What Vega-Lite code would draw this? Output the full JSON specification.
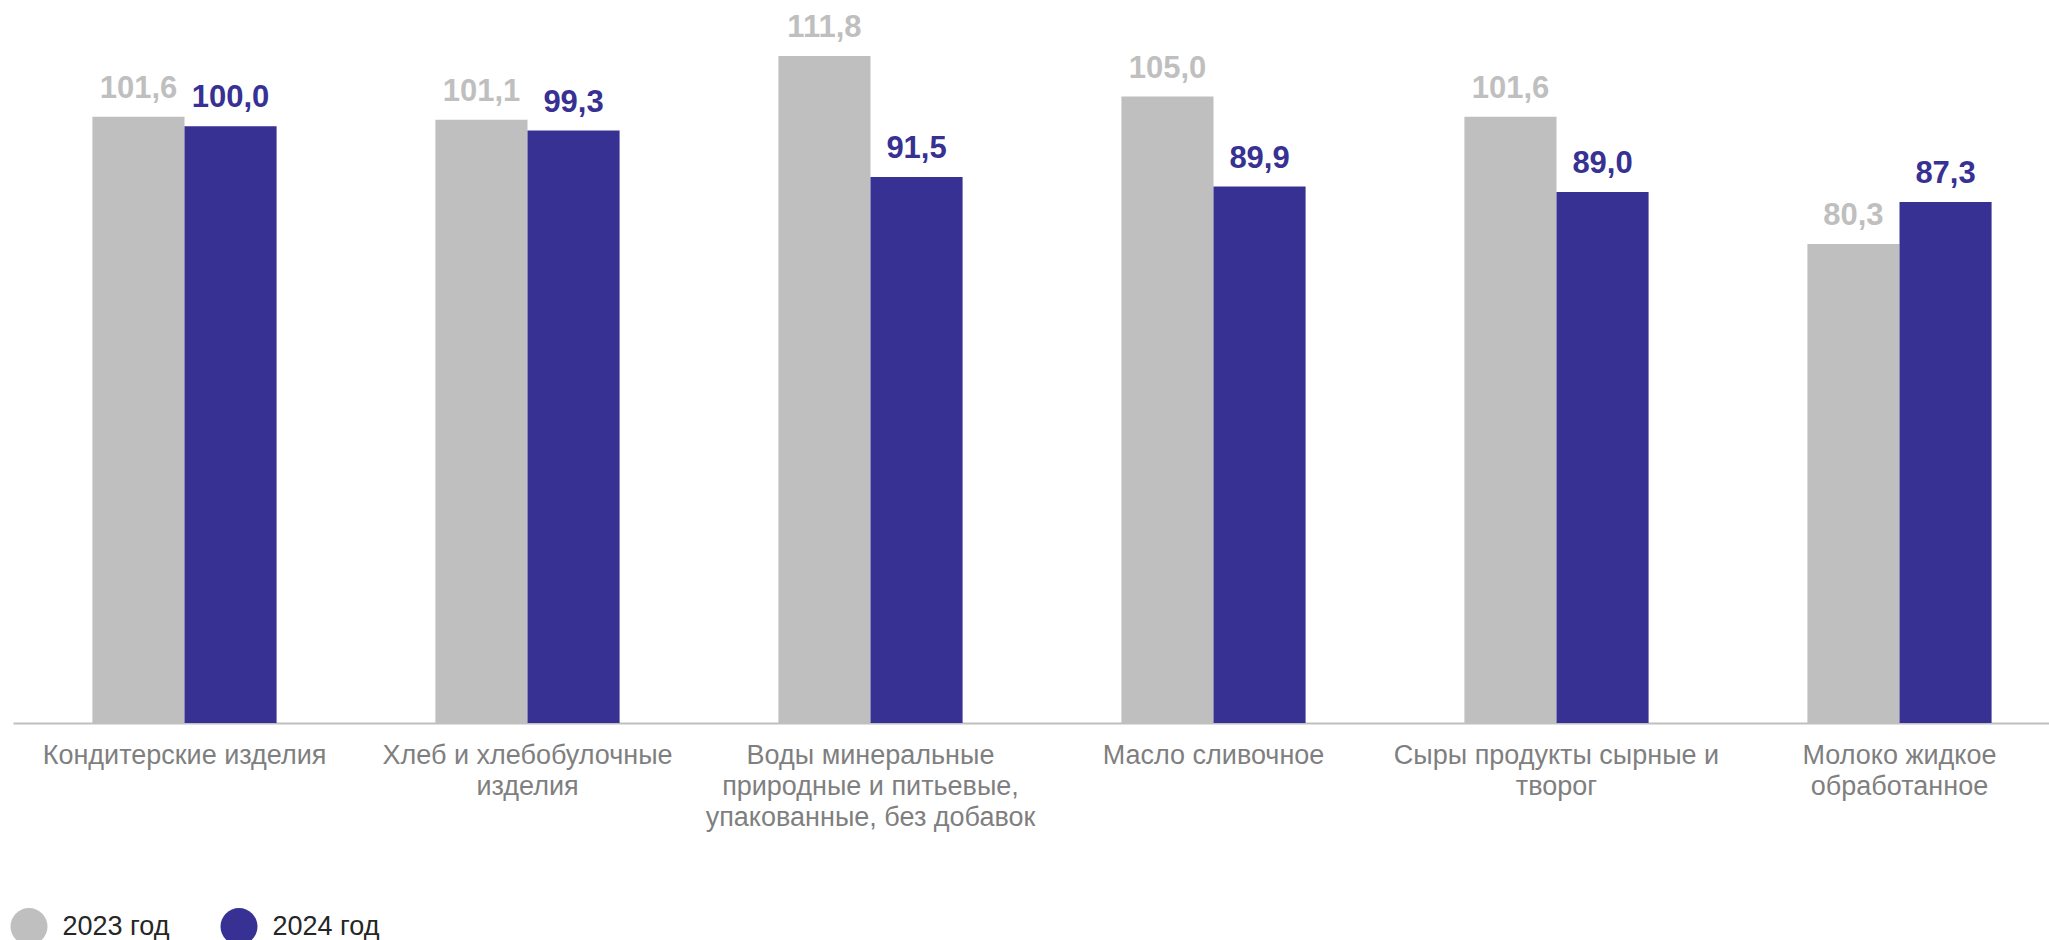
{
  "$schema": "https://vega.github.io/schema/vega-lite/v6.json",
  "autosize": {"type": "none"},
  "padding": {"left": 13, "top": 7, "right": 0, "bottom": 217},
  "width": 2058,
  "height": 716,
  "background": "white",
  "config": {
    "locale": {"number": {"decimal": ",", "thousands": " ", "grouping": [3], "currency": ["", ""]}},
    "view": {"stroke": null},
    "font": "Liberation Sans"
  },
  "data": {
    "values": [
      {"product": "Кондитерские изделия", "year": "2023 год", "value": 101.6},
      {"product": "Кондитерские изделия", "year": "2024 год", "value": 100.0},
      {"product": "Хлеб и хлебобулочные\nизделия", "year": "2023 год", "value": 101.1},
      {"product": "Хлеб и хлебобулочные\nизделия", "year": "2024 год", "value": 99.3},
      {"product": "Воды минеральные\nприродные и питьевые,\nупакованные, без добавок", "year": "2023 год", "value": 111.8},
      {"product": "Воды минеральные\nприродные и питьевые,\nупакованные, без добавок", "year": "2024 год", "value": 91.5},
      {"product": "Масло сливочное", "year": "2023 год", "value": 105.0},
      {"product": "Масло сливочное", "year": "2024 год", "value": 89.9},
      {"product": "Сыры продукты сырные и\nтворог", "year": "2023 год", "value": 101.6},
      {"product": "Сыры продукты сырные и\nтворог", "year": "2024 год", "value": 89.0},
      {"product": "Молоко жидкое\nобработанное", "year": "2023 год", "value": 80.3},
      {"product": "Молоко жидкое\nобработанное", "year": "2024 год", "value": 87.3}
    ]
  },
  "encoding": {
    "x": {
      "field": "product",
      "type": "nominal",
      "sort": null,
      "scale": {"paddingInner": 0.463, "paddingOuter": 0.2315},
      "axis": {
        "title": null,
        "labelAngle": 0,
        "labelExpr": "split(datum.value, '\\n')",
        "labelFontSize": 27,
        "labelLineHeight": 31,
        "labelColor": "#7f7f7f",
        "labelPadding": 19,
        "labelBaseline": "top",
        "ticks": false,
        "domainColor": "#bfbfbf",
        "domainWidth": 2,
        "grid": false,
        "labelLimit": 450
      }
    },
    "xOffset": {"field": "year", "type": "nominal", "scale": {"paddingInner": 0, "paddingOuter": 0}},
    "y": {
      "field": "value",
      "type": "quantitative",
      "scale": {"domain": [0, 120], "nice": false},
      "axis": null
    }
  },
  "layer": [
    {
      "mark": {"type": "bar"},
      "encoding": {
        "color": {
          "field": "year",
          "type": "nominal",
          "scale": {"domain": ["2023 год", "2024 год"], "range": ["#bfbfbf", "#373193"]},
          "legend": {
            "title": null,
            "orient": "none",
            "direction": "horizontal",
            "legendX": -2.5,
            "legendY": 901,
            "symbolType": "circle",
            "symbolSize": 1369,
            "symbolStrokeWidth": 0,
            "symbolOpacity": 1,
            "labelFontSize": 27,
            "labelColor": "#262626",
            "labelOffset": 15,
            "columnPadding": 51
          }
        }
      }
    },
    {
      "mark": {"type": "text", "fontSize": 31, "fontWeight": "bold", "baseline": "alphabetic", "align": "center", "dy": -19},
      "encoding": {
        "text": {"field": "value", "type": "quantitative", "format": ".1f"},
        "color": {"field": "year", "type": "nominal", "legend": null}
      }
    }
  ]
}
